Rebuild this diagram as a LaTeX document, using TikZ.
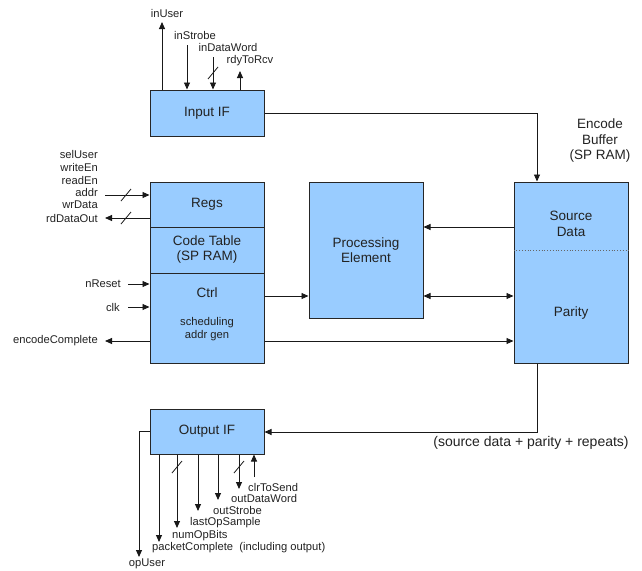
\documentclass[tikz,border=0pt]{standalone}
\usepackage{fontspec}
\setmainfont{Liberation Sans}
\usetikzlibrary{arrows.meta,calc}
\definecolor{boxblue}{HTML}{99CCFF}
\definecolor{txt}{HTML}{222222}
\newcommand\slashat[1]{\draw[slmark] ($(#1)+(-5,6)$) -- ($(#1)+(5,-6)$);}
\begin{document}
\begin{tikzpicture}[x=1pt,y=-1pt,
  blk/.style={draw=black!85, fill=boxblue, line width=1pt, minimum width=114pt, inner sep=0pt, text=txt, font=\fontsize{13.5}{15}\selectfont, align=center},
  lbl/.style={inner sep=0pt, text=txt, font=\fontsize{11.2}{12.8}\selectfont},
  big/.style={inner sep=0pt, text=txt, font=\fontsize{13.5}{15.5}\selectfont, align=center},
  conn/.style={line width=0.9pt, draw=black!90},
  arr/.style={conn, -{Triangle[length=7pt,width=6pt]}},
  darr/.style={conn, {Triangle[length=7pt,width=6pt]}-{Triangle[length=7pt,width=6pt]}},
  slmark/.style={line width=0.8pt, draw=black!90}
]
\useasboundingbox (0,0) rectangle (642,570);

% blocks
\node[blk, minimum height=46pt] (inif) at (207,113) {Input IF};
\node[blk, minimum height=45pt] (regs) at (207,204.5) {Regs};
\node[blk, minimum height=46pt] (ctab) at (207,250) {Code Table\\(SP RAM)};
\node[blk, minimum height=90pt] (ctrl) at (207,318) {};
\node[big] (ctrlt) at (207,293) {Ctrl};
\node[lbl, align=center] (sched) at (207,329) {scheduling\\addr gen};
\node[blk, minimum height=136pt] (pe) at (366,250) {Processing\\Element};
\node[blk, minimum height=181pt] (buf) at (571,272.5) {};
\node[big] (srcd) at (571,224) {Source\\Data};
\node[big] (par) at (571,313) {Parity};
\coordinate (dl) at (571,250);
\draw[dotted, line width=0.8pt, draw=black!60] (buf.west |- dl) -- (buf.east |- dl);
\node[blk, minimum height=45pt] (outif) at (207,431.5) {Output IF};
\node[big] (encbuf) at (600,141) {Encode\\Buffer\\(SP RAM)};

% Input IF signals
\coordinate (c-inuser) at (162,22);
\draw[arr] (inif.north -| c-inuser) -- (c-inuser);
\node[lbl] (l-inuser) at (167,13) {inUser};
\coordinate (c-instrobe) at (187,45);
\draw[arr] (c-instrobe) -- (inif.north -| c-instrobe);
\node[lbl] (l-instrobe) at (195,35) {inStrobe};
\coordinate (c-indw) at (213,57);
\draw[arr] (c-indw) -- (inif.north -| c-indw);
\coordinate (s-indw) at (213,73);
\slashat{s-indw}
\node[lbl] (l-indw) at (228,47) {inDataWord};
\coordinate (c-rdy) at (240,71);
\draw[arr] (inif.north -| c-rdy) -- (c-rdy);
\node[lbl] (l-rdy) at (250,61) {rdyToRcv};

% Input IF -> buffer
\coordinate (bx) at (537,113);
\draw[arr] (inif.east) -- (inif.east -| bx) -- (buf.north -| bx);

% register interface labels
\node[lbl, anchor=east] (l-sel) at (98,154) {selUser};
\node[lbl, anchor=east] (l-we) at (98,167) {writeEn};
\node[lbl, anchor=east] (l-re) at (98,180) {readEn};
\node[lbl, anchor=east] (l-addr) at (98,192) {addr};
\node[lbl, anchor=east] (l-wd) at (98,205) {wrData};
\node[lbl, anchor=east] (l-rdo) at (98,218) {rdDataOut};
\coordinate (c-addr) at (105,195);
\draw[arr] (c-addr) -- (regs.west |- c-addr);
\coordinate (s-addr) at (126,195);
\slashat{s-addr}
\coordinate (c-rdo) at (105,218);
\draw[arr] (regs.west |- c-rdo) -- (c-rdo);
\coordinate (s-rdo) at (126,218);
\slashat{s-rdo}

% ctrl signals
\node[lbl, anchor=east] (l-nr) at (121,284) {nReset};
\coordinate (c-nr) at (128,284);
\draw[arr] (c-nr) -- (ctrl.west |- c-nr);
\node[lbl, anchor=east] (l-clk) at (120,307) {clk};
\coordinate (c-clk) at (128,307);
\draw[arr] (c-clk) -- (ctrl.west |- c-clk);
\node[lbl, anchor=east] (l-ec) at (98,341) {encodeComplete};
\coordinate (c-ec) at (105,341);
\draw[arr] (ctrl.west |- c-ec) -- (c-ec);

% internal connections
\coordinate (y296) at (300,296);
\draw[arr] (ctrl.east |- y296) -- (pe.west |- y296);
\coordinate (y227) at (450,227);
\draw[arr] (buf.west |- y227) -- (pe.east |- y227);
\draw[darr] (pe.east |- y296) -- (buf.west |- y296);
\coordinate (y341) at (400,341);
\draw[arr] (ctrl.east |- y341) -- (buf.west |- y341);

% buffer -> output IF
\coordinate (ox) at (537,432);
\draw[arr] (buf.south -| ox) -- (ox) -- (outif.east |- ox);
\node[big, font=\fontsize{14}{16}\selectfont] (l-src) at (531,443) {(source data + parity + repeats)};

% Output IF signals
\coordinate (c-op) at (139,557);
\draw[arr] (outif.west) -- (outif.west -| c-op) -- (c-op);
\node[lbl] (l-op) at (147,564) {opUser};
\coordinate (c-pc) at (159,542);
\draw[arr] (outif.south -| c-pc) -- (c-pc);
\node[lbl, anchor=west] (l-pc) at (152,548) {packetComplete\ \ (including output)};
\coordinate (c-nob) at (177,528);
\draw[arr] (outif.south -| c-nob) -- (c-nob);
\coordinate (s-nob) at (177,467);
\slashat{s-nob}
\node[lbl, anchor=west] (l-nob) at (172,536) {numOpBits};
\coordinate (c-los) at (198,511);
\draw[arr] (outif.south -| c-los) -- (c-los);
\node[lbl, anchor=west] (l-los) at (190,523) {lastOpSample};
\coordinate (c-os) at (218,500);
\draw[arr] (outif.south -| c-os) -- (c-os);
\node[lbl, anchor=west] (l-os) at (213,510) {outStrobe};
\coordinate (c-odw) at (239,489);
\draw[arr] (outif.south -| c-odw) -- (c-odw);
\coordinate (s-odw) at (239,467);
\slashat{s-odw}
\node[lbl, anchor=west] (l-odw) at (231,498) {outDataWord};
\coordinate (c-cts) at (254,477);
\draw[arr] (c-cts) -- (outif.south -| c-cts);
\node[lbl, anchor=west] (l-cts) at (248,487) {clrToSend};
\end{tikzpicture}
\end{document}
